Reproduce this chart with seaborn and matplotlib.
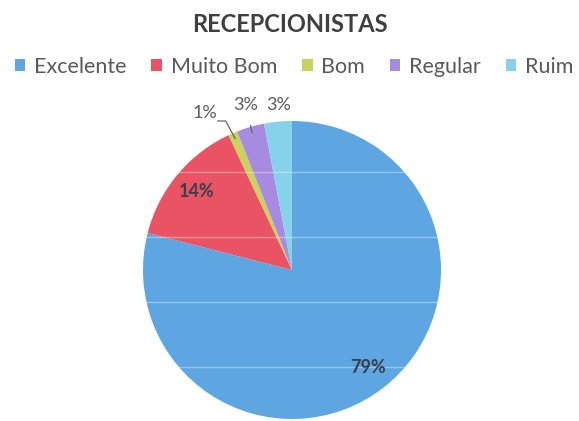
import matplotlib
matplotlib.use("Agg")
import matplotlib.pyplot as plt
import seaborn as sns
import numpy as np
from matplotlib.patches import Patch

# -------------------------------
# Data
# -------------------------------
categories = ["Excelente", "Muito Bom", "Bom", "Regular", "Ruim"]
values = [79, 14, 1, 3, 3]
colors = ["#5ea6e2", "#ea5364", "#c9d25a", "#a78be0", "#86d2ea"]

sns.set_style("white")
plt.rcParams['font.family'] = ['Lato', 'DejaVu Sans']

fig = plt.figure(figsize=(5.79, 4.21), dpi=100)
R = 149
ax = fig.add_axes([(292 - R) / 579, (421 - 270 - R) / 421, 2 * R / 579, 2 * R / 421])

wedges, texts, autotexts = ax.pie(
    values, colors=colors, startangle=90, counterclock=False,
    autopct="%1.0f%%", pctdistance=0.83, radius=1.0,
    wedgeprops=dict(linewidth=0),
    textprops=dict(color="#3a3f4c", fontsize=13, fontweight="bold"),
)
ax.set_xlim(-1, 1)
ax.set_ylim(-1, 1)

# small slices: labels outside the pie, with leader lines
label_pos = {2: (-0.50, 1.0), 3: (-0.31, 1.11), 4: (-0.09, 1.11)}
for i, w in enumerate(wedges):
    if i < 2:
        continue
    autotexts[i].set_visible(False)
    ang = np.deg2rad((w.theta1 + w.theta2) / 2)
    edge = (np.cos(ang) * 0.96, np.sin(ang) * 0.96)
    arrow = None
    ha, va = "center", "center"
    if i == 2:
        ha, va = "right", "bottom"
        arrow = dict(arrowstyle="-", color="#666666", lw=0.9, shrinkA=0, shrinkB=0,
                     relpos=(1.0, 0.0), patchA=None,
                     connectionstyle="angle,angleA=0,angleB=118,rad=0")
    elif i == 3:
        arrow = dict(arrowstyle="-", color="#666666", lw=0.9, shrinkA=7, shrinkB=0)
    ax.annotate(f"{values[i]}%", xy=edge, xytext=label_pos[i],
                ha=ha, va=va, fontsize=13, color="#5a5a5a",
                arrowprops=arrow, annotation_clip=False)

# faint horizontal lines showing through the chart (scan artefact)
for yy in [172, 237, 302, 367]:
    ax.axhline((270 - yy) / R, color="white", alpha=0.35, lw=1)

fig.text(290 / 579, 1 - 24 / 421, "RECEPCIONISTAS", ha="center", va="center",
         fontsize=17, fontweight="bold", color="#3f3f3f")

handles = [Patch(facecolor=c, edgecolor="none") for c in colors]
fig.legend(handles, categories, loc="center", bbox_to_anchor=(294 / 579, 1 - 67 / 421),
           ncol=5, frameon=False, fontsize=15.5, handlelength=0.5, handleheight=0.5,
           handletextpad=0.4, columnspacing=1.15, labelcolor="#595959",
           borderpad=0, borderaxespad=0)

fig.savefig("out.png", dpi=100)
